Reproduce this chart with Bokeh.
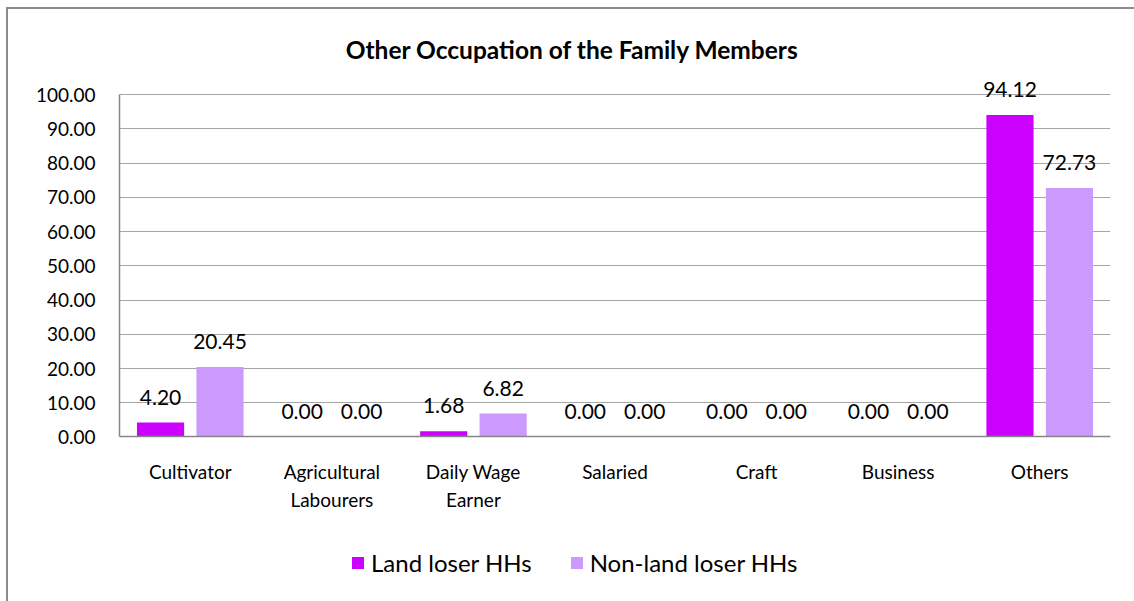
from bokeh.plotting import figure
from bokeh.models import (ColumnDataSource, FactorRange, FixedTicker, NumeralTickFormatter,
                          LabelSet, Label, Legend, LegendItem, Range1d)
from bokeh.transform import dodge
from bokeh.core.properties import value
from bokeh.embed import file_html
from bokeh.resources import INLINE

categories = ["Cultivator", "Agricultural\nLabourers", "Daily Wage\nEarner", "Salaried",
              "Craft", "Business", "Others"]
land_loser = [4.20, 0.00, 1.68, 0.00, 0.00, 0.00, 94.12]
non_land_loser = [20.45, 0.00, 6.82, 0.00, 0.00, 0.00, 72.73]
y_ticks = [0, 10, 20, 30, 40, 50, 60, 70, 80, 90, 100]

FONT = "Lato"
src = ColumnDataSource(dict(
    cat=categories, land=land_loser, non=non_land_loser,
    land_txt=["%.2f" % v for v in land_loser],
    non_txt=["%.2f" % v for v in non_land_loser],
))

# layout in pixels (frame spans almost whole figure; axis drawn at y=0)
FRAME_TOP, FRAME_BOTTOM, ZERO_PX, HUNDRED_PX = 12, 598, 435, 94
ppu = (ZERO_PX - HUNDRED_PX) / 100.0
y_start = -(FRAME_BOTTOM - ZERO_PX) / ppu
y_end = (ZERO_PX - FRAME_TOP) / ppu

p = figure(x_range=FactorRange(*categories), y_range=Range1d(y_start, y_end),
           width=1128, height=594, output_backend="svg", toolbar_location=None,
           min_border_left=111, min_border_right=26, min_border_top=3, min_border_bottom=3)
p.styles = {"margin-left": "6px", "margin-top": "7px",
            "border-left": "2px solid #8c8c8c", "border-top": "2px solid #8c8c8c"}
p.outline_line_color = None
p.background_fill_color = "white"

r1 = p.vbar(x=dodge("cat", -0.21, range=p.x_range), top="land", width=0.333, source=src,
            fill_color="#CC00FF", line_color=None)
r2 = p.vbar(x=dodge("cat", 0.21, range=p.x_range), top="non", width=0.333, source=src,
            fill_color="#CC99FF", line_color=None)

for off, ycol, tcol in [(-0.21, "land", "land_txt"), (0.21, "non", "non_txt")]:
    ls = LabelSet(x=dodge("cat", off, range=p.x_range), y=ycol,
                  text=tcol, source=src, text_align="center", text_baseline="alphabetic",
                  y_offset=18, text_font=value(FONT), text_font_size="21px", text_color="black")
    p.add_layout(ls)

p.yaxis.ticker = FixedTicker(ticks=y_ticks)
p.yaxis.bounds = (0, 100)
p.yaxis.formatter = NumeralTickFormatter(format="0.00")
p.yaxis.major_label_text_font = FONT
p.yaxis.major_label_text_font_size = "19px"
p.yaxis.major_label_text_color = "black"
p.yaxis.major_label_standoff = 18
p.yaxis.axis_line_color = "#868686"
p.yaxis.axis_line_width = 1.5
p.yaxis.major_tick_line_color = None
p.yaxis.minor_tick_line_color = None

p.xaxis.fixed_location = 0
p.xaxis.major_label_text_font = FONT
p.xaxis.major_label_text_font_size = "19px"
p.xaxis.major_label_text_color = "black"
p.xaxis.major_label_standoff = 17
p.xaxis.axis_line_color = "#868686"
p.xaxis.axis_line_width = 1.5
p.xaxis.major_tick_line_color = None

p.xgrid.grid_line_color = None
p.ygrid.grid_line_color = "#a6a6a6"
p.ygrid.grid_line_width = 1.2

title = Label(x=453, y=FRAME_BOTTOM - 47, x_units="screen", y_units="screen",
              text="Other Occupation of the Family Members", text_align="center",
              text_baseline="middle", text_font=FONT, text_font_size="24.5px",
              text_font_style="bold", text_color="black")
p.add_layout(title)

legend = Legend(items=[LegendItem(label="Land loser HHs", renderers=[r1]),
                       LegendItem(label="Non-land loser HHs", renderers=[r2])],
                orientation="horizontal", location=(231, 23),
                label_text_font=FONT, label_text_font_size="24px", label_text_color="black",
                glyph_width=15, glyph_height=15, spacing=37, label_standoff=6,
                border_line_color=None, background_fill_alpha=0)
p.add_layout(legend, "center")

open("out.html", "w").write(file_html(p, INLINE))
